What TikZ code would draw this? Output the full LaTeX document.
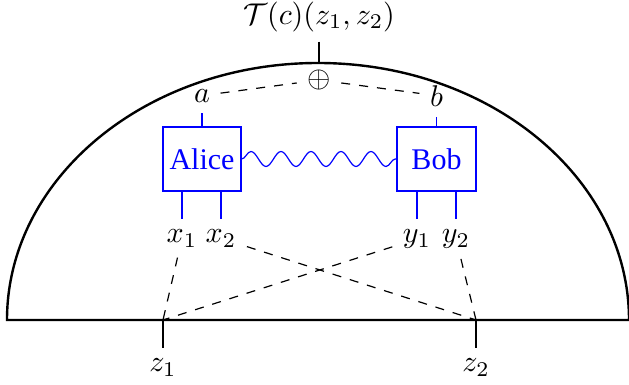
\documentclass[tikz,border=0pt]{standalone}
\usepackage{fontspec}
\setmainfont{Liberation Serif}
\usetikzlibrary{decorations.pathmorphing}
\begin{document}
\begin{tikzpicture}[x=0.33333pt,y=0.33333pt,
  lbl/.style={inner sep=3.333pt},
  agent/.style={draw=blue,text=blue,minimum width=26pt,minimum height=21.33pt,inner sep=1pt},
  thickline/.style={line width=0.8pt},
  link/.style={dashed},
  wire/.style={blue}]
\useasboundingbox (0,0) rectangle (629,385);
% semi-ellipse
\draw[thickline] (7,65) arc[start angle=180,end angle=0,x radius=311,y radius=257] -- cycle;
% top
\node[inner sep=0pt,anchor=base] (T) at (319,360.5) {$\mathcal{T}(c)(z_1,z_2)$};
\node[lbl] (oplus) at (319,305) {$\oplus$};
\coordinate (arctop) at (319,322.3);
\draw ([yshift=-3pt]T.south) -- (arctop);
% agents
\node[agent] (alice) at (202,226) {Alice};
\node[agent,minimum width=26.33pt] (bob) at (436.5,226) {Bob};
\node[lbl,anchor=south] (a) at (202,272.3) {$a$};
\node[lbl,anchor=south] (b) at (436.5,268.3) {$b$};
\draw[wire] (alice.north) -- (a.south);
\draw[wire] (bob.north) -- (b.south);
\draw[link] (a) -- (oplus);
\draw[link] (oplus) -- (b);
\draw[wire,decorate,decoration=snake] (alice.east) -- (bob.west);
% inputs
\node[lbl,anchor=north] (x1) at (182,166) {$x_1$};
\node[lbl,anchor=north] (x2) at (221,166) {$x_2$};
\node[lbl,anchor=north] (y1) at (417,166) {$y_1$};
\node[lbl,anchor=north] (y2) at (456,166) {$y_2$};
\draw[wire] (x1.north |- alice.south) -- (x1.north);
\draw[wire] (x2.north |- alice.south) -- (x2.north);
\draw[wire] (y1.north |- bob.south) -- (y1.north);
\draw[wire] (y2.north |- bob.south) -- (y2.north);
% outputs
\coordinate (z1) at (163,65);
\coordinate (z2) at (476,65);
\node[lbl,anchor=north] (z1l) at (163,37) {$z_1$};
\node[lbl,anchor=north] (z2l) at (476,37) {$z_2$};
\draw (z1) -- (z1l.north);
\draw (z2) -- (z2l.north);
\draw[link] (x1) -- (z1);
\draw[link] (y1) -- (z1);
\draw[link] (x2) -- (z2);
\draw[link] (y2) -- (z2);
\end{tikzpicture}
\end{document}
